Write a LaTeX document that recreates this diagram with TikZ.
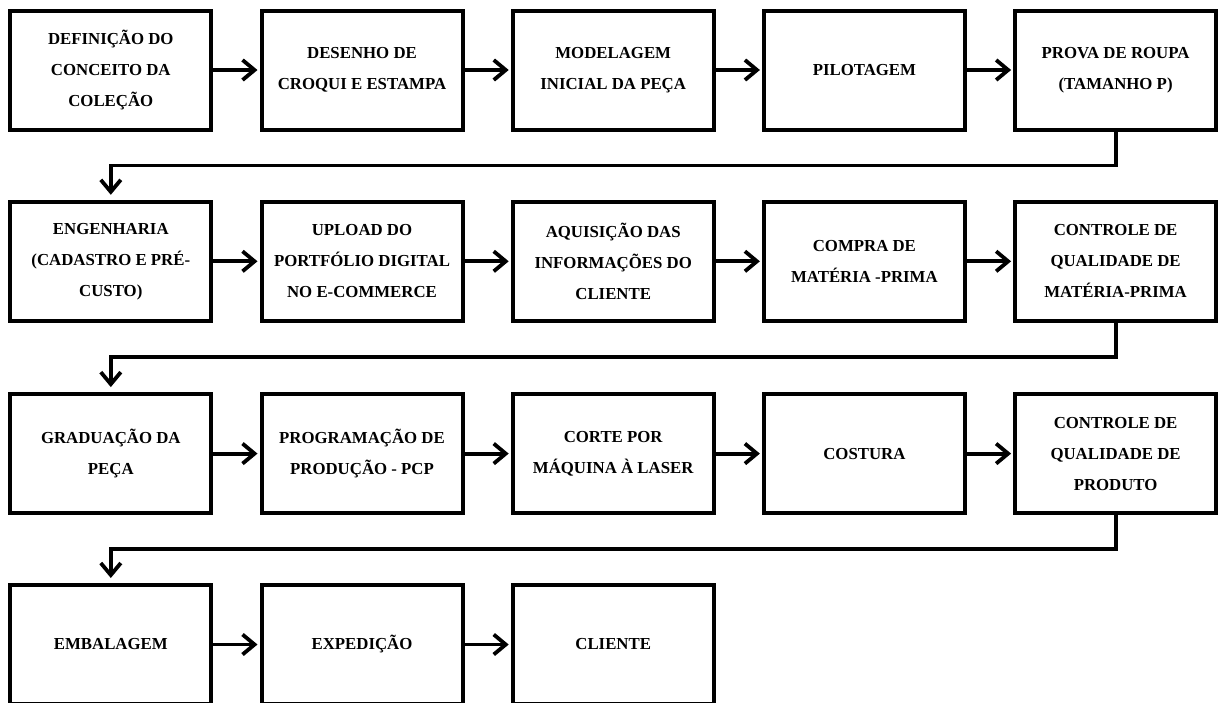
\documentclass[tikz,border=0pt]{standalone}
\usepackage{fontspec}
\setmainfont{Liberation Serif}
\usetikzlibrary{arrows.meta,positioning}
\begin{document}
\begin{tikzpicture}[x=1pt,y=-1pt,
  stepbox/.style={draw=black,line width=4pt,fill=white,
    minimum width=201pt,minimum height=119pt,inner sep=0pt,
    align=center,font=\bfseries\fontsize{16.8}{31}\selectfont},
  conn/.style={line width=3.8pt,-{Straight Barb[length=12pt,width=20pt,line width=3.8pt]},shorten >=2pt},
  turn/.style={conn,shorten >=5pt}]
\useasboundingbox (0,0) rectangle (1219,702);
\begin{scope}
\clip (0,0) rectangle (1219,702);
% row 1
\node[stepbox] (a1) at (110.8,70) {DEFINIÇÃO DO\\CONCEITO DA\\COLEÇÃO};
\node[stepbox] (a2) at (362.0,70) {DESENHO DE\\CROQUI E ESTAMPA};
\node[stepbox] (a3) at (613.2,70) {MODELAGEM\\INICIAL DA PEÇA};
\node[stepbox] (a4) at (864.4,70) {PILOTAGEM};
\node[stepbox] (a5) at (1115.6,70) {PROVA DE ROUPA\\(TAMANHO P)};
% row 2
\node[stepbox] (b1) at (110.8,261.3) {ENGENHARIA\\(CADASTRO E PRÉ-\\CUSTO)};
\node[stepbox] (b2) at (362.0,261.3) {UPLOAD DO\\PORTFÓLIO DIGITAL\\NO E-COMMERCE};
\node[stepbox] (b3) at (613.2,261.3) {AQUISIÇÃO DAS\\INFORMAÇÕES DO\\CLIENTE};
\node[stepbox] (b4) at (864.4,261.3) {COMPRA DE\\MATÉRIA -PRIMA};
\node[stepbox] (b5) at (1115.6,261.3) {CONTROLE DE\\QUALIDADE DE\\MATÉRIA-PRIMA};
% row 3
\node[stepbox] (c1) at (110.8,453.6) {GRADUAÇÃO DA\\PEÇA};
\node[stepbox] (c2) at (362.0,453.6) {PROGRAMAÇÃO DE\\PRODUÇÃO - PCP};
\node[stepbox] (c3) at (613.2,453.6) {CORTE POR\\MÁQUINA À LASER};
\node[stepbox] (c4) at (864.4,453.6) {COSTURA};
\node[stepbox] (c5) at (1115.6,453.6) {CONTROLE DE\\QUALIDADE DE\\PRODUTO};
% row 4
\node[stepbox] (d1) at (110.8,644.5) {EMBALAGEM};
\node[stepbox] (d2) at (362.0,644.5) {EXPEDIÇÃO};
\node[stepbox] (d3) at (613.2,644.5) {CLIENTE};
% arrows inside each row
\foreach \r in {a,b,c}{
  \draw[conn] (\r1) -- (\r2);
  \draw[conn] (\r2) -- (\r3);
  \draw[conn] (\r3) -- (\r4);
  \draw[conn] (\r4) -- (\r5);
}
\draw[conn] (d1) -- (d2);
\draw[conn] (d2) -- (d3);
% links from the end of a row to the start of the next
\draw[turn] (a5.south) -- ++(0,34) -| (b1.north);
\draw[turn] (b5.south) -- ++(0,34) -| (c1.north);
\draw[turn] (c5.south) -- ++(0,34) -| (d1.north);
\end{scope}
\end{tikzpicture}
\end{document}
